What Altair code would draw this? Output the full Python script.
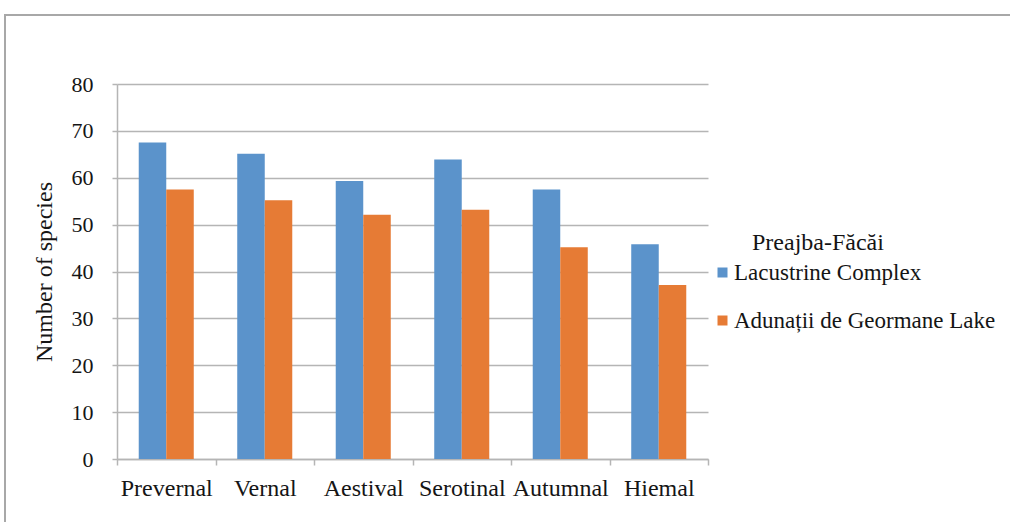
import altair as alt
import pandas as pd

seasons = ["Prevernal", "Vernal", "Aestival", "Serotinal", "Autumnal", "Hiemal"]
series_names = ["Lacustrine Complex", "Adunații de Geormane Lake"]
lacustrine = [67.5, 65.1, 59.3, 63.9, 57.5, 45.8]
adunatii = [57.5, 55.2, 52.1, 53.2, 45.2, 37.1]
colors = ["#5B93CB", "#E67B35"]
y_ticks = [0, 10, 20, 30, 40, 50, 60, 70, 80]
legend_title = "Preajba-Făcăi"

rows = []
for s, a, b in zip(seasons, lacustrine, adunatii):
    rows.append({"season": s, "series": series_names[0], "value": a})
    rows.append({"season": s, "series": series_names[1], "value": b})
df = pd.DataFrame(rows)

FONT = "Liberation Serif, Times New Roman, serif"
GRID = "#B5B5B5"
TXT = "#151515"

bars = alt.Chart(df).mark_bar().encode(
    x=alt.X(
        "season:N", sort=seasons, title=None,
        scale=alt.Scale(paddingInner=0, paddingOuter=0),
        axis=alt.Axis(labelAngle=0, tickBand="extent", domainColor=GRID, domainWidth=1.5,
                      tickColor=GRID, tickWidth=1.5, tickSize=6, labelPadding=11,
                      labelFontSize=24, labelFont=FONT, labelColor=TXT, grid=False),
    ),
    xOffset=alt.XOffset("series:N", sort=series_names,
                        scale=alt.Scale(paddingOuter=0.79, paddingInner=0)),
    y=alt.Y(
        "value:Q", scale=alt.Scale(domain=[0, 80]),
        axis=alt.Axis(values=y_ticks, title="Number of species", grid=True, gridColor=GRID,
                      gridWidth=1.5, domainColor=GRID, domainWidth=1.5, tickColor=GRID,
                      tickWidth=1.5, tickSize=5, labelPadding=19, labelFontSize=22,
                      labelFont=FONT, labelColor=TXT, titleFont=FONT, titleFontSize=24,
                      titleFontWeight="normal", titleColor=TXT, titlePadding=15),
    ),
    color=alt.Color(
        "series:N", sort=series_names,
        scale=alt.Scale(domain=series_names, range=colors),
        legend=alt.Legend(
            title=None, orient="none",
            legendX=594, legendY=177,
            labelFont=FONT, labelFontSize=23, labelColor=TXT, labelLimit=400,
            symbolType="square", symbolSize=100, symbolStrokeWidth=0,
            rowPadding=24, labelOffset=0, padding=0,
        ),
    ),
)

title_text = alt.Chart(pd.DataFrame({"t": [legend_title]})).mark_text(
    font=FONT, fontSize=24, color=TXT, align="left", baseline="alphabetic"
).encode(x=alt.value(635), y=alt.value(166), text="t:N")

frame = alt.Chart(pd.DataFrame({"a": [0]})).mark_rect(
    fill=None, stroke="#A8A8A8", strokeWidth=2
).encode(
    x=alt.value(-112), x2=alt.value(1000), y=alt.value(-69), y2=alt.value(470)
)

chart = alt.layer(frame, bars, title_text).properties(
    width=591, height=375,
    autosize=alt.AutoSizeParams(type="none"),
    padding={"left": 117, "top": 84, "right": 302, "bottom": 63},
).configure(font=FONT).configure_view(stroke=None)

chart.save("out.html", embed_options={"renderer": "svg", "actions": False})
